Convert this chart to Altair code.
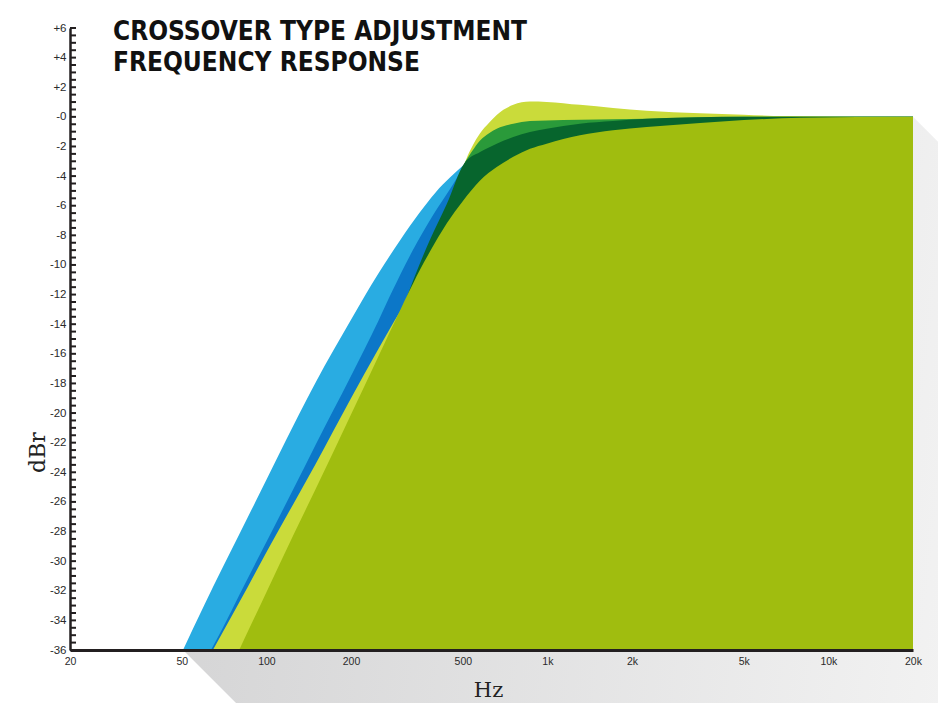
import math
import altair as alt
import pandas as pd

# ---------------- data ----------------
TITLE_LINES = ["CROSSOVER TYPE ADJUSTMENT", "FREQUENCY RESPONSE"]

X_TICKS = [20, 50, 100, 200, 500, 1000, 2000, 5000, 10000, 20000]
Y_LABELS = [6, 4, 2, 0, -2, -4, -6, -8, -10, -12, -14, -16, -18, -20, -22,
            -24, -26, -28, -30, -32, -34, -36]
Y_MINOR = [-36 + 0.5 * i for i in range(85)]

# light blue
LB_HZ = [50.5, 60, 70, 80, 100, 125, 150, 200, 250, 300, 350, 400, 450, 500,
         600, 700, 800, 1000, 1500, 2000, 3000, 5000, 10000, 20000]
LB_DB = [-36, -33.0, -30.4, -28.2, -24.5, -20.8, -17.9, -13.7, -10.6, -8.3,
         -6.5, -5.1, -4.1, -3.3, -2.3, -1.6, -1.2, -0.7, -0.3, -0.15, -0.07,
         -0.02, 0, 0]
# dark blue
DB_HZ = [63.5, 70, 80, 100, 125, 150, 200, 250, 280, 330, 390, 460, 505, 600,
         700, 800, 1000, 1500, 2000, 3000, 5000, 20000]
DB_DB = [-36, -34.5, -32.3, -28.7, -25.1, -22.1, -17.5, -13.8, -11.8, -9.1,
         -6.7, -4.6, -3.35, -2.1, -1.4, -1.0, -0.55, -0.22, -0.1, -0.04, 0, 0]
# light yellow-green (peaking)
LYG_HZ = [64.5, 80, 100, 125, 150, 200, 250, 300, 350, 400, 450, 480, 505, 540,
          576, 620, 660, 756, 867, 994, 1306, 1712, 2256, 3491, 5000, 7000,
          20000]
LYG_DB = [-36, -32.8, -29.4, -26.1, -23.4, -19.0, -15.7, -13.1, -11.1, -9.0,
          -6.9, -5.0, -3.3, -2.0, -1.1, -0.4, 0.13, 0.81, 1.03, 1.01, 0.81,
          0.6, 0.42, 0.25, 0.14, 0.05, 0]
# medium green
MG_HZ = [100, 125, 150, 200, 250, 320, 382, 438, 505, 540, 576, 620, 660, 756,
         867, 994, 1306, 2256, 3491, 5000, 20000]
MG_DB = [-36, -31.6, -28.3, -23.1, -18.3, -12.4, -8.8, -6.3, -3.2, -2.3,
         -1.59, -1.1, -0.80, -0.46, -0.28, -0.24, -0.19, -0.12, -0.03, 0, 0]
# dark green
DG_HZ = [108, 125, 150, 200, 250, 320, 350, 382, 438, 505, 576, 660, 756, 867,
         994, 1306, 1712, 2256, 3491, 5000, 20000]
DG_DB = [-36, -32.6, -28.9, -22.7, -17.6, -11.9, -10.0, -8.3, -5.9, -3.16,
         -2.38, -1.81, -1.36, -1.02, -0.8, -0.46, -0.28, -0.12, -0.02, 0, 0]
# main yellow-green
YG_HZ = [80, 100, 125, 150, 200, 250, 300, 320, 350, 382, 438, 502, 576, 660,
         756, 867, 994, 1306, 1712, 2256, 3491, 5000, 8000, 20000]
YG_DB = [-36, -32.1, -28.2, -25.1, -20.1, -16.2, -13.0, -11.9, -10.4, -9.1,
         -7.2, -5.64, -4.29, -3.39, -2.7, -2.16, -1.81, -1.25, -0.91, -0.69,
         -0.42, -0.22, -0.06, 0]

SERIES = [
    (LB_HZ, LB_DB, "#29ace2"),
    (DB_HZ, DB_DB, "#0c77c8"),
    (LYG_HZ, LYG_DB, "#cadb3a"),
    (MG_HZ, MG_DB, "#2a9a3a"),
    (DG_HZ, DG_DB, "#07652d"),
    (YG_HZ, YG_DB, "#a0bd0f"),
]

# ---------------- layout ----------------
WIDTH, HEIGHT = 843, 622
X_MIN, X_MAX = 20, 20000
Y_MIN, Y_MAX = -36, 6
PX_PER_DEC = WIDTH / 3.0
PX_PER_DB = HEIGHT / float(Y_MAX - Y_MIN)

x_scale = alt.Scale(type="log", domain=[X_MIN, X_MAX], nice=False)
y_scale = alt.Scale(domain=[Y_MIN, Y_MAX], nice=False, zero=False)

AX_X = alt.Axis(
    values=X_TICKS,
    labelExpr="datum.value >= 1000 ? (datum.value / 1000) + 'k' : '' + datum.value",
    ticks=False, grid=False, domainColor="#231f20", domainWidth=3,
    labelFont="Liberation Sans, Arial, sans-serif", labelFontSize=10.5,
    labelColor="#2a2a2a", labelPadding=6, labelFlush=False, labelOverlap=False,
    title="Hz", titleFont="DejaVu Serif", titleFontSize=21,
    titleFontWeight="normal", titleColor="#222222",
    titleX=418, titleY=29, titleBaseline="top", zindex=1,
)
AX_Y = alt.Axis(
    values=Y_LABELS,
    labelExpr="(datum.value > 0 ? '+' : '-') + abs(datum.value)",
    ticks=False, grid=False, domainColor="#231f20", domainWidth=2.5,
    labelFont="Liberation Sans, Arial, sans-serif", labelFontSize=11.5,
    labelColor="#2a2a2a", labelPadding=4, labelFlush=False, labelOverlap=False,
    title="dBr", titleFont="DejaVu Serif", titleFontSize=22,
    titleFontWeight="normal", titleColor="#222222",
    titleAngle=270, titleX=-26, titleY=424, titleAlign="center",
    titleBaseline="alphabetic", zindex=1,
)


def xenc():
    return alt.X("hz:Q", scale=x_scale, axis=AX_X)


def yenc():
    return alt.Y("db:Q", scale=y_scale, axis=AX_Y)


# long drop shadow behind the response block (derived from the envelope corners)
start_hz = LB_HZ[0]
span_px = WIDTH - PX_PER_DEC * math.log10(start_hz / X_MIN)
ext = 80.0
shadow = pd.DataFrame({
    "hz": [start_hz, X_MAX, X_MAX * 10 ** (ext / PX_PER_DEC)],
    "db": [Y_MIN, 0.0, -ext / PX_PER_DB],
    "bottom": [Y_MIN, Y_MIN - span_px / PX_PER_DB,
               Y_MIN - (span_px + ext) / PX_PER_DB - 50],
})
shadow_layer = alt.Chart(shadow).mark_area(
    interpolate="linear",
    color=alt.Gradient(
        gradient="linear",
        stops=[alt.GradientStop(color="#d3d3d4", offset=0),
               alt.GradientStop(color="#f4f4f4", offset=1)],
        x1=0, x2=1, y1=0, y2=0.3,
    ),
).encode(x=xenc(), y=yenc(), y2=alt.Y2("bottom:Q"))

layers = [shadow_layer]
for hz, db, col in SERIES:
    df = pd.DataFrame({"hz": hz, "db": db})
    layers.append(
        alt.Chart(df).mark_area(color=col, interpolate="monotone").encode(
            x=xenc(), y=yenc(), y2=alt.datum(Y_MIN)
        )
    )

ticks = alt.Chart(pd.DataFrame({"db": Y_MINOR})).mark_rule(
    color="#231f20", strokeWidth=2
).encode(y=yenc(), x=alt.value(0), x2=alt.value(6))
layers.append(ticks)

title_layer = alt.Chart(pd.DataFrame({"k": [0]})).mark_text(
    text=TITLE_LINES, align="left", baseline="alphabetic",
    font="DejaVu Sans Condensed, Liberation Sans Narrow, sans-serif",
    fontWeight="bold", fontSize=26, lineHeight=31, color="#111111",
).encode(x=alt.value(43), y=alt.value(12))
layers.append(title_layer)

chart = alt.layer(*layers).properties(
    width=WIDTH, height=HEIGHT,
    padding={"left": 62, "top": 20, "right": 25, "bottom": 53},
    autosize=alt.AutoSizeParams(type="none"),
    background="white",
).configure_view(stroke=None)

chart.save("out.html", embed_options={"renderer": "svg", "actions": False})
